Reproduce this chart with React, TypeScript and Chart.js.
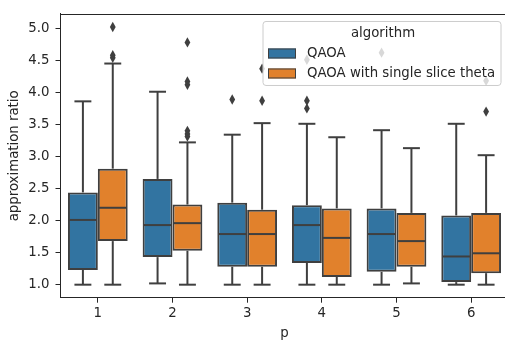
import React, { useEffect, useRef } from 'react';
import { Chart, registerables } from 'chart.js';

Chart.register(...registerables);

// ---- data ----
const categories = ['1', '2', '3', '4', '5', '6'];
const seriesNames = ['QAOA', 'QAOA with single slice theta'];
const yTickValues = [1.0, 1.5, 2.0, 2.5, 3.0, 3.5, 4.0, 4.5, 5.0];

// QAOA
const qaoaLow = [1.0, 1.02, 1.0, 1.0, 1.0, 1.0];
const qaoaQ1 = [1.23, 1.43, 1.28, 1.34, 1.2, 1.04];
const qaoaMedian = [2.01, 1.93, 1.79, 1.93, 1.79, 1.44];
const qaoaQ3 = [2.44, 2.65, 2.28, 2.24, 2.19, 2.08];
const qaoaHigh = [3.86, 4.01, 3.34, 3.51, 3.41, 3.51];
const qaoaOutliers = [[], [], [3.89], [4.51, 3.87, 3.75], [4.62], []];

// QAOA with single slice theta
const sliceLow = [1.0, 1.0, 1.0, 1.0, 1.02, 1.0];
const sliceQ1 = [1.68, 1.53, 1.28, 1.12, 1.28, 1.18];
const sliceMedian = [2.2, 1.96, 1.79, 1.73, 1.68, 1.49];
const sliceQ3 = [2.81, 2.25, 2.17, 2.19, 2.12, 2.12];
const sliceHigh = [4.45, 3.22, 3.52, 3.3, 3.13, 3.02];
const sliceOutliers = [[5.02, 4.58, 4.54], [4.78, 4.17, 4.12, 3.4, 3.35, 3.31], [4.37, 3.87], [], [], [4.18, 3.7]];

const stats = [
  { low: qaoaLow, q1: qaoaQ1, med: qaoaMedian, q3: qaoaQ3, high: qaoaHigh, out: qaoaOutliers },
  { low: sliceLow, q1: sliceQ1, med: sliceMedian, q3: sliceQ3, high: sliceHigh, out: sliceOutliers },
];

// ---- style ----
const FONT = "'DejaVu Sans', sans-serif";
const FS = 13.3;
const TEXT = '#262626';
const GRAY = '#3f3f3f';
const COLORS = ['#3274a1', '#e1812c'];
const LW = 2;
const CANVAS_W = 512;
const CANVAS_H = 340;

function line(ctx: CanvasRenderingContext2D, x1: number, y1: number, x2: number, y2: number) {
  ctx.beginPath();
  ctx.moveTo(x1, y1);
  ctx.lineTo(x2, y2);
  ctx.stroke();
}

const boxExtras = {
  id: 'boxExtras',
  afterDatasetsDraw(chart: any) {
    const ctx: CanvasRenderingContext2D = chart.ctx;
    const ys = chart.scales.y;
    ctx.save();
    ctx.lineCap = 'butt';
    stats.forEach((s, di) => {
      const meta = chart.getDatasetMeta(di);
      meta.data.forEach((bar: any, i: number) => {
        const { x, width } = bar.getProps(['x', 'width'], true);
        const half = width / 2;
        const yLow = ys.getPixelForValue(s.low[i]);
        const yQ1 = ys.getPixelForValue(s.q1[i]);
        const yMed = ys.getPixelForValue(s.med[i]);
        const yQ3 = ys.getPixelForValue(s.q3[i]);
        const yHigh = ys.getPixelForValue(s.high[i]);
        ctx.strokeStyle = GRAY;
        ctx.lineWidth = LW;
        line(ctx, x, yQ1, x, yLow);
        line(ctx, x, yQ3, x, yHigh);
        const cap = width * 0.25 + LW / 2;
        line(ctx, x - cap, yLow, x + cap, yLow);
        line(ctx, x - cap, yHigh, x + cap, yHigh);
        line(ctx, x - half + 1, yMed, x + half - 1, yMed);
        ctx.fillStyle = GRAY;
        s.out[i].forEach((v) => {
          const py = ys.getPixelForValue(v);
          ctx.beginPath();
          ctx.moveTo(x, py - 5.2);
          ctx.lineTo(x + 2.9, py);
          ctx.lineTo(x, py + 5.2);
          ctx.lineTo(x - 2.9, py);
          ctx.closePath();
          ctx.fill();
        });
      });
    });
    ctx.restore();
  },
  afterDraw(chart: any) {
    const ctx: CanvasRenderingContext2D = chart.ctx;
    const area = chart.chartArea;
    ctx.save();
    // top spine
    ctx.strokeStyle = TEXT;
    ctx.lineWidth = 1;
    line(ctx, area.left, Math.round(area.top) + 0.5, area.right, Math.round(area.top) + 0.5);

    // legend
    const right = area.right - 7.5;
    const top = area.top + 7.5;
    const w = 238;
    const h = 64;
    const left = right - w;
    const r = 3;
    ctx.beginPath();
    ctx.moveTo(left + r, top);
    ctx.lineTo(right - r, top);
    ctx.quadraticCurveTo(right, top, right, top + r);
    ctx.lineTo(right, top + h - r);
    ctx.quadraticCurveTo(right, top + h, right - r, top + h);
    ctx.lineTo(left + r, top + h);
    ctx.quadraticCurveTo(left, top + h, left, top + h - r);
    ctx.lineTo(left, top + r);
    ctx.quadraticCurveTo(left, top, left + r, top);
    ctx.closePath();
    ctx.fillStyle = 'rgba(255,255,255,0.8)';
    ctx.fill();
    ctx.strokeStyle = '#cccccc';
    ctx.lineWidth = 1;
    ctx.stroke();

    ctx.font = `${FS}px ${FONT}`;
    ctx.fillStyle = TEXT;
    ctx.textBaseline = 'middle';
    ctx.textAlign = 'center';
    ctx.fillText('algorithm', left + w / 2 + 1, top + 12);
    ctx.textAlign = 'left';
    seriesNames.forEach((name, i) => {
      const py = top + 27 + i * 20;
      ctx.fillStyle = COLORS[i];
      ctx.fillRect(left + 5, py, 28, 10);
      ctx.strokeStyle = GRAY;
      ctx.lineWidth = 1;
      ctx.strokeRect(left + 5.5, py + 0.5, 27, 9);
      ctx.fillStyle = TEXT;
      ctx.fillText(name, left + 44, py + 5.5);
    });
    ctx.restore();
  },
};

export default function App() {
  const ref = useRef<HTMLCanvasElement>(null);

  useEffect(() => {
    document.body.style.overflow = 'hidden';
    const canvas = ref.current!;
    const chart = new Chart(canvas, {
      type: 'bar',
      data: {
        labels: categories,
        datasets: stats.map((s, di) => ({
          label: seriesNames[di],
          data: categories.map((_, i) => [s.q1[i], s.q3[i]] as any),
          backgroundColor: COLORS[di],
          borderColor: GRAY,
          borderWidth: LW,
          borderSkipped: false,
          barPercentage: 1.0,
          categoryPercentage: 0.8,
        })),
      },
      options: {
        responsive: false,
        animation: false,
        devicePixelRatio: 1,
        layout: { padding: { left: 0, right: CANVAS_W - 508.5, top: 6, bottom: 0 } },
        plugins: { legend: { display: false }, tooltip: { enabled: false } },
        scales: {
          x: {
            type: 'category',
            offset: true,
            grid: { display: true, drawOnChartArea: false, drawTicks: true, tickLength: 5, color: TEXT, offset: false },
            border: { display: true, color: TEXT, width: 1 },
            ticks: { color: TEXT, font: { family: FONT, size: FS }, padding: 3, maxRotation: 0 },
            title: { display: true, text: 'p', color: TEXT, font: { family: FONT, size: FS, lineHeight: 1.0 }, padding: { top: 0, bottom: 0 } },
            afterFit: (scale: any) => { scale.height = 42.3; },
          },
          y: {
            type: 'linear',
            min: 0.797,
            max: 5.223,
            grid: { display: true, drawOnChartArea: false, drawTicks: true, tickLength: 5, color: TEXT },
            border: { display: true, color: TEXT, width: 1 },
            afterBuildTicks: (scale: any) => { scale.ticks = yTickValues.map((v) => ({ value: v })); },
            ticks: {
              color: TEXT,
              font: { family: FONT, size: FS },
              padding: 6,
              callback: (v: any) => Number(v).toFixed(1),
            },
            title: { display: true, text: 'approximation ratio', color: TEXT, font: { family: FONT, size: FS }, padding: { top: 7, bottom: 0 } },
            afterFit: (scale: any) => { scale.width = 60.5; },
          },
        },
      },
      plugins: [boxExtras],
    });
    return () => chart.destroy();
  }, []);

  return (
    <canvas
      ref={ref}
      width={CANVAS_W}
      height={CANVAS_H}
      style={{ position: 'absolute', left: 0, top: 0, width: CANVAS_W, height: CANVAS_H }}
    />
  );
}
